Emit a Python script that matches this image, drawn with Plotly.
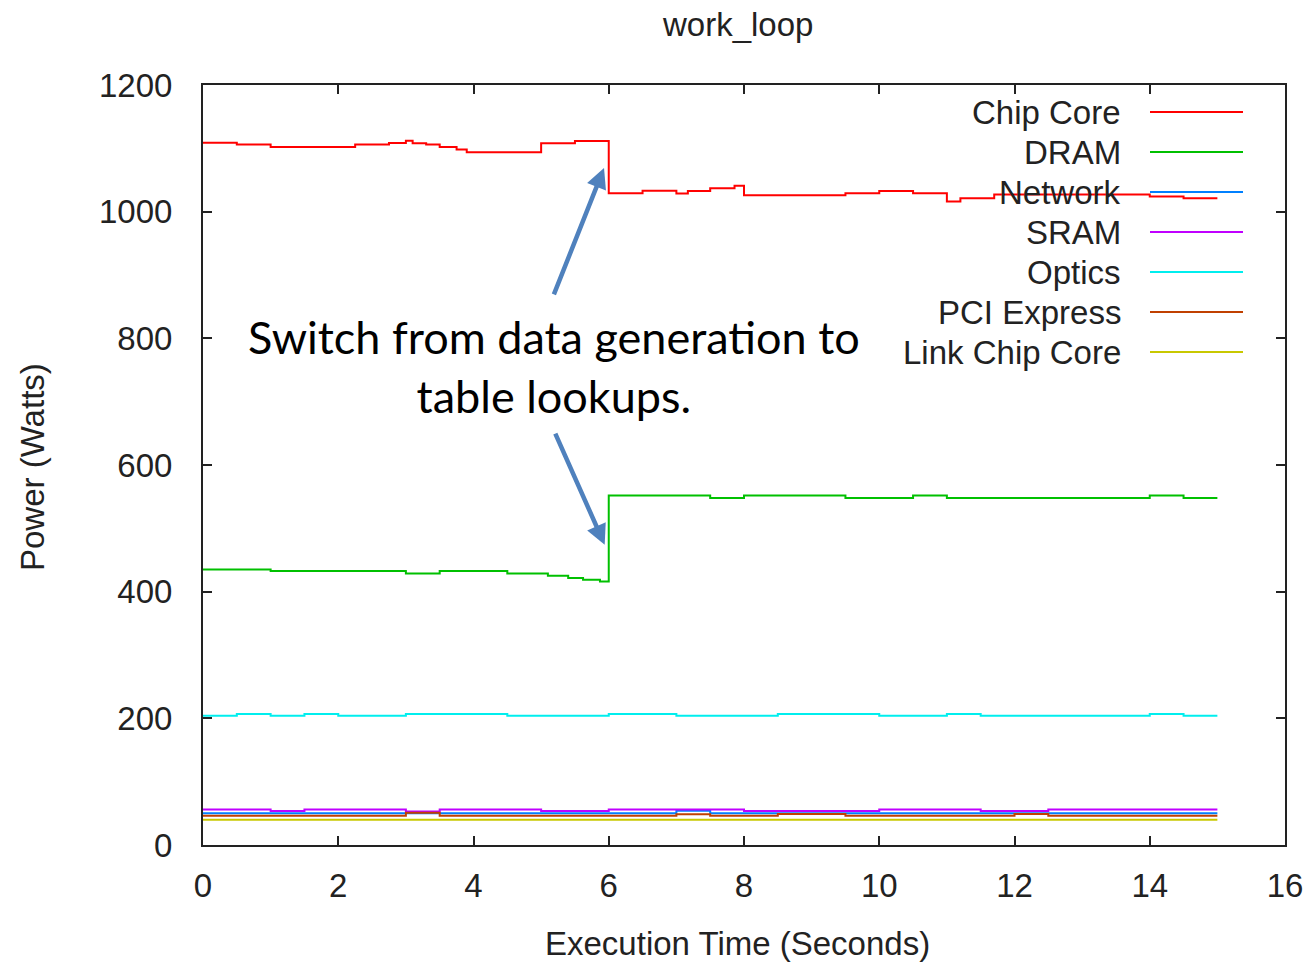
import plotly.graph_objects as go

# ---------------- data (step series: change times and values) ----------------
chip_t = [0, 0.5, 1.0, 2.25, 2.75, 3.0, 3.1, 3.3, 3.5, 3.75, 3.9, 5.0, 5.5, 6.0, 6.5, 7.0, 7.17,
          7.5, 7.86, 8.0, 9.5, 10.0, 10.5, 11.0, 11.2, 11.7, 14.0, 14.5, 15.0]
chip_v = [1109, 1106, 1102, 1106, 1108.5, 1112, 1108, 1106, 1102, 1098, 1094, 1108, 1111.5, 1029,
          1033, 1028.5, 1032.5, 1037, 1041, 1026, 1029, 1032.5, 1029, 1016, 1021, 1027, 1024, 1021, 1021]

dram_t = [0, 1, 3, 3.5, 4.5, 5.1, 5.4, 5.62, 5.87, 6.0, 7.5, 8.0, 9.5, 10.5, 11.0, 14.0, 14.5, 15]
dram_v = [435, 432.5, 428.5, 432.5, 428.5, 425, 421.5, 419, 416, 552, 548, 552, 548, 552, 548, 552, 548, 548]

net_t = [0, 7, 7.5, 15]
net_v = [50, 54, 50, 50]

sram_t = [0, 1, 1.5, 3, 3.5, 5, 6, 8, 10, 11.5, 12.5, 15]
sram_v = [56, 53.5, 56, 53, 56, 53.5, 56, 53.5, 56, 53.5, 56, 56]

optics_t = [0, 0.5, 1, 1.5, 2, 3, 4.5, 6, 7, 8.5, 10, 11, 11.5, 14, 14.5, 15]
optics_v = [204, 207, 204, 207, 204, 207, 204, 207, 204, 207, 204, 207, 204, 207, 204, 204]

pci_t = [0, 3, 3.5, 7, 7.5, 8.5, 9.5, 12, 12.5, 15]
pci_v = [46, 51, 46, 48.5, 46, 49, 46, 49, 46, 46]

link_t = [0, 15]
link_v = [40, 40]

series_names = ["Chip Core", "DRAM", "Network", "SRAM", "Optics", "PCI Express", "Link Chip Core"]
series_t = [chip_t, dram_t, net_t, sram_t, optics_t, pci_t, link_t]
series_v = [chip_v, dram_v, net_v, sram_v, optics_v, pci_v, link_v]
series_colors = ["#ff0000", "#00c000", "#0080ff", "#c000ff", "#00eeee", "#c04000", "#c8c800"]

x_ticks = [0, 2, 4, 6, 8, 10, 12, 14, 16]
y_ticks = [0, 200, 400, 600, 800, 1000, 1200]

title_text = "work_loop"
x_title = "Execution Time (Seconds)"
y_title = "Power (Watts)"
note_text = "Switch from data generation to<br>table lookups."

# ---------------- layout geometry ----------------
W, H = 1307, 962
L, R, T, B = 203, 0, 85, 117
PX_RIGHT = 1285               # right edge of plot frame in pixels
PAPER_W = W - L - R           # width of paper region
PH = H - T - B
x_domain_end = (PX_RIGHT - L) / PAPER_W

def px_to_paper_x(px):
    return (px - L) / PAPER_W

def py_to_paper_y(py):
    return (H - B - py) / PH

TXT = "#222222"
FONT = "Liberation Sans, Arial, sans-serif"
FS = 33

fig = go.Figure()

for name, t, v, c in zip(series_names, series_t, series_v, series_colors):
    fig.add_trace(go.Scatter(x=t, y=v, mode="lines", name=name,
                             line=dict(color=c, width=2, shape="hv"),
                             showlegend=False))

# custom gnuplot-style legend: right-aligned text, line sample to the right
annotations = []
shapes = []
leg_y0 = 112
for i, (name, c) in enumerate(zip(series_names, series_colors)):
    py = leg_y0 + 40 * i
    annotations.append(dict(x=px_to_paper_x(1123), y=py_to_paper_y(py), xref="paper", yref="paper",
                            text=name, showarrow=False, xanchor="right", yanchor="middle",
                            font=dict(family=FONT, size=FS, color=TXT)))
    shapes.append(dict(type="line", xref="paper", yref="paper",
                       x0=px_to_paper_x(1150), x1=px_to_paper_x(1243),
                       y0=py_to_paper_y(py), y1=py_to_paper_y(py),
                       line=dict(color=c, width=2)))

# callout text
annotations.append(dict(x=px_to_paper_x(554), y=py_to_paper_y(366), xref="paper", yref="paper",
                        text=note_text, showarrow=False, xanchor="center", yanchor="middle",
                        align="center",
                        font=dict(family="Lato, Open Sans, sans-serif", size=45, color="#000000")))
# arrows
arrow_col = "#4f81bd"
annotations.append(dict(x=5.93, y=1069, ax=5.18, ay=867, xref="x", yref="y", axref="x", ayref="y",
                        text="", showarrow=True, arrowhead=2, arrowsize=0.9, arrowwidth=4.5,
                        arrowcolor=arrow_col))
annotations.append(dict(x=5.94, y=474, ax=5.2, ay=652, xref="x", yref="y", axref="x", ayref="y",
                        text="", showarrow=True, arrowhead=2, arrowsize=0.9, arrowwidth=4.5,
                        arrowcolor=arrow_col))

# axis titles
annotations.append(dict(x=px_to_paper_x(737), y=py_to_paper_y(943), xref="paper", yref="paper",
                        text=x_title, showarrow=False, xanchor="center", yanchor="middle",
                        font=dict(family=FONT, size=FS, color=TXT)))
annotations.append(dict(x=px_to_paper_x(32), y=py_to_paper_y(467), xref="paper", yref="paper",
                        text=y_title, showarrow=False, xanchor="center", yanchor="middle",
                        textangle=-90, font=dict(family=FONT, size=FS, color=TXT)))
# title
annotations.append(dict(x=px_to_paper_x(737), y=py_to_paper_y(24), xref="paper", yref="paper",
                        text=title_text, showarrow=False, xanchor="center", yanchor="middle",
                        font=dict(family=FONT, size=FS, color=TXT)))

axis_common = dict(showline=True, linecolor="#222222", linewidth=2, mirror="ticks",
                   ticks="inside", ticklen=9, tickwidth=2, tickcolor="#222222",
                   showgrid=False, zeroline=False, automargin=False,
                   tickfont=dict(family=FONT, size=FS, color=TXT))

fig.update_layout(
    width=W, height=H,
    margin=dict(l=L, r=R, t=T, b=B, pad=0, autoexpand=False),
    paper_bgcolor="white", plot_bgcolor="white",
    xaxis=dict(range=[0, 16], domain=[0, x_domain_end], tickvals=x_ticks,
               ticktext=[str(v) for v in x_ticks], ticklabelstandoff=10, **axis_common),
    yaxis=dict(range=[0, 1200], tickvals=y_ticks, ticktext=[str(v) for v in y_ticks],
               ticklabelstandoff=22, **axis_common),
    annotations=annotations,
    shapes=shapes,
)

fig.write_html("out.html")
